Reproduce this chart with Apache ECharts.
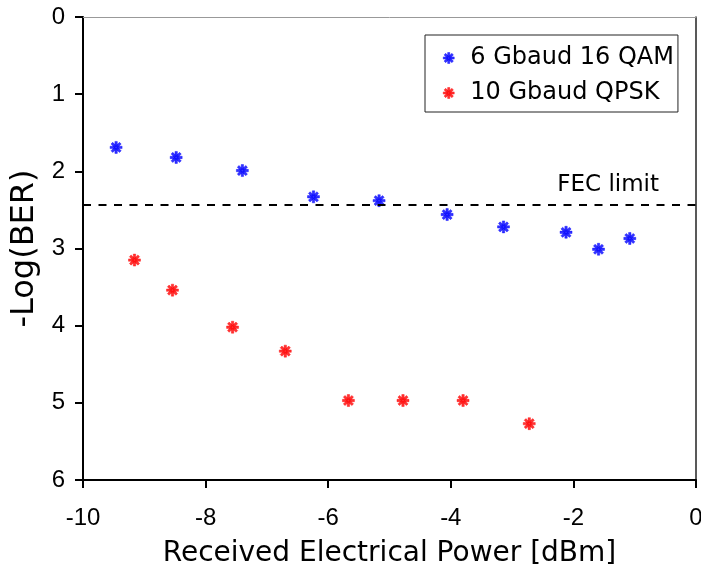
<!DOCTYPE html>
<html>
<head>
<meta charset="utf-8">
<script src="https://cdn.jsdelivr.net/npm/echarts@6/dist/echarts.min.js"></script>
<style>
html,body{margin:0;padding:0;background:#fff;}
#chart{width:701px;height:567px;}
</style>
</head>
<body>
<div id="chart"></div>
<script>
// ---- data ----
const qam16X = [-9.46, -8.48, -7.40, -6.24, -5.17, -4.06, -3.14, -2.12, -1.59, -1.08];
const qam16Y = [1.69, 1.82, 1.99, 2.33, 2.38, 2.56, 2.72, 2.79, 3.01, 2.87];
const qpskX = [-9.16, -8.54, -7.56, -6.70, -5.67, -4.78, -3.80, -2.72];
const qpskY = [3.15, 3.54, 4.02, 4.33, 4.97, 4.97, 4.97, 5.27];
const FEC_LIMIT = 2.43;
const seriesNames = ['6 Gbaud 16 QAM', '10 Gbaud QPSK'];
const xTicks = [-10, -8, -6, -4, -2, 0];
const yTicks = [0, 1, 2, 3, 4, 5, 6];

const asterisk = 'path://M-1.2,-6L1.2,-6L1.2,6L-1.2,6Z M-6,-1.2L6,-1.2L6,1.2L-6,1.2Z M-5.09,-3.39L-3.39,-5.09L5.09,3.39L3.39,5.09Z M3.39,-5.09L5.09,-3.39L-3.39,5.09L-5.09,3.39Z';
const FONT = 'DejaVu Sans';
const TICKFONT = 'Liberation Sans';

const chart = echarts.init(document.getElementById('chart'), null, {renderer: 'canvas'});
chart.setOption({
  animation: false,
  backgroundColor: '#fff',
  grid: {left: 83, right: 5, top: 17, bottom: 87, containLabel: false, outerBoundsMode: 'none'},
  legend: {
    orient: 'vertical',
    left: 425, top: 35,
    padding: [10, 4, 6, 18],
    itemGap: 9,
    itemWidth: 11, itemHeight: 11,
    borderColor: '#222', borderWidth: 1,
    backgroundColor: '#fff',
    itemStyle: {borderWidth: 0.5},
    textStyle: {fontFamily: FONT, fontSize: 24, color: '#000', lineHeight: 26, padding: [0, 0, 0, 11]},
    data: seriesNames.map(n => ({name: n, icon: asterisk}))
  },
  xAxis: [{
    type: 'value', min: xTicks[0], max: xTicks[xTicks.length - 1], interval: 2,
    name: 'Received Electrical Power [dBm]', nameLocation: 'middle', nameGap: 60,
    nameTextStyle: {fontFamily: FONT, fontSize: 28, color: '#000'},
    axisLine: {show: true, onZero: false, lineStyle: {color: '#000', width: 2}},
    axisTick: {show: true, inside: false, length: 8, lineStyle: {color: '#000', width: 2}},
    axisLabel: {fontFamily: TICKFONT, fontSize: 24, color: '#000', margin: 26},
    splitLine: {show: false}
  }, {
    type: 'value', min: xTicks[0], max: xTicks[xTicks.length - 1], position: 'top',
    axisLine: {show: true, onZero: false, lineStyle: {color: '#999', width: 1}},
    axisTick: {show: false}, axisLabel: {show: false}, splitLine: {show: false}
  }],
  yAxis: [{
    type: 'value', min: yTicks[0], max: yTicks[yTicks.length - 1], interval: 1, inverse: true,
    name: '-Log(BER)', nameLocation: 'middle', nameGap: 33, nameRotate: 90,
    nameTextStyle: {fontFamily: FONT, fontSize: 32, color: '#000'},
    axisLine: {show: true, onZero: false, lineStyle: {color: '#000', width: 2}},
    axisTick: {show: true, inside: false, length: 8, lineStyle: {color: '#000', width: 2}},
    axisLabel: {fontFamily: TICKFONT, fontSize: 24, color: '#000', margin: 18},
    splitLine: {show: false}
  }, {
    type: 'value', min: yTicks[0], max: yTicks[yTicks.length - 1], inverse: true, position: 'right',
    axisLine: {show: true, onZero: false, lineStyle: {color: '#222', width: 1.5}},
    axisTick: {show: false}, axisLabel: {show: false}, splitLine: {show: false}
  }],
  series: [{
    name: seriesNames[0], type: 'scatter',
    symbol: asterisk, symbolSize: 12,
    itemStyle: {color: '#0000ff', borderColor: '#0000ff', borderWidth: 0.5},
    data: qam16X.map((x, i) => [x, qam16Y[i]]),
    markLine: {
      silent: true, symbol: 'none',
      lineStyle: {color: '#000', width: 2.2, type: [8, 7.5]},
      label: {show: true, position: 'insideEndTop', formatter: 'FEC limit', fontFamily: FONT, fontSize: 23, color: '#000', distance: [37, 8]},
      data: [{yAxis: FEC_LIMIT}]
    },
    z: 3
  }, {
    name: seriesNames[1], type: 'scatter',
    symbol: asterisk, symbolSize: 12,
    itemStyle: {color: '#ff0000', borderColor: '#ff0000', borderWidth: 0.5},
    data: qpskX.map((x, i) => [x, qpskY[i]]),
    z: 3
  }]
});
</script>
</body>
</html>
